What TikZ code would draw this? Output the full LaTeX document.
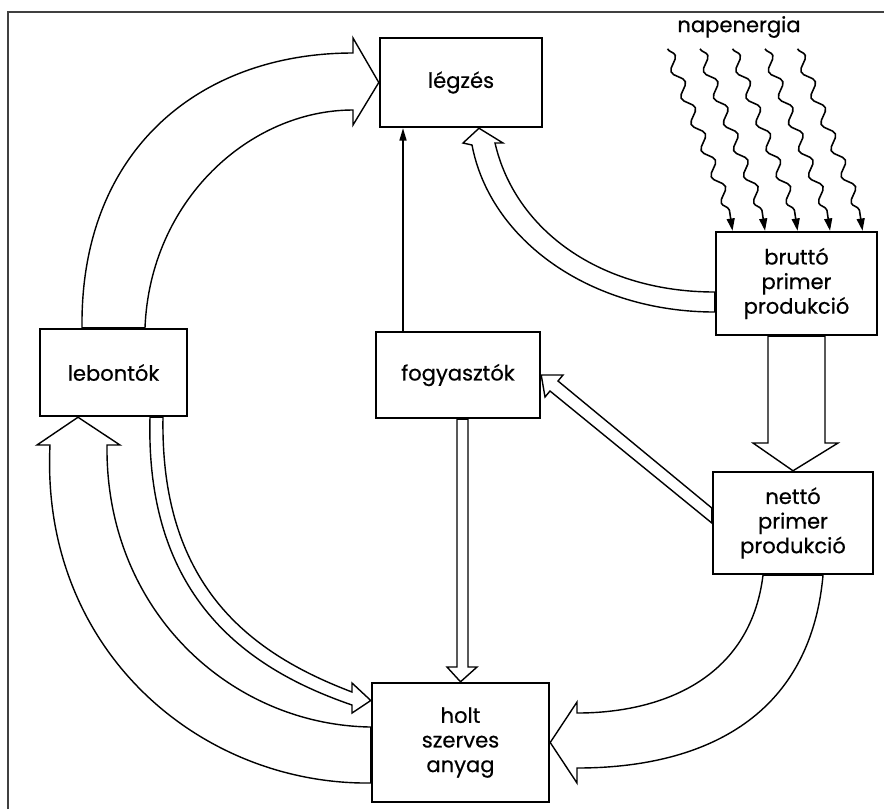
\documentclass[tikz,border=0pt]{standalone}
\usepackage{fontspec}
\setmainfont{Poppins}[FakeBold=0.5]
\usetikzlibrary{calc,arrows.meta,decorations.pathmorphing}
\tikzset{
  box/.style={draw, line width=1.4pt, align=center, inner sep=0pt,
    font=\fontsize{12}{14}\selectfont},
  hollow/.style={draw, line width=0.8pt, fill=white, line join=miter},
  thinarrow/.style={line width=0.8pt, -{Triangle[length=7pt,width=4pt]}},
  ray/.style={line width=0.9pt, -{Triangle[length=7pt,width=4.5pt]}},
}

\begin{document}
\begin{tikzpicture}[x=0.02cm, y=-0.02cm]
\useasboundingbox (0,0) rectangle (884,809);
% frame of the scan
\draw[line width=1pt, black!75] (8,809) -- (8,12) -- (884,12);

% boxes
\node[box, minimum width=3.24cm, minimum height=1.78cm] (legzes) at (461,82.5) {légzés};
\node[box, minimum width=3.22cm, minimum height=2.06cm] (brutto) at (796.5,283.5) {bruttó\\primer\\produkció};
\node[box, minimum width=3.28cm, minimum height=1.72cm] (fogy) at (458,375) {fogyasztók};
\node[box, minimum width=2.94cm, minimum height=1.74cm] (lebont) at (113.5,372.5) {lebontók};
\node[box, minimum width=3.20cm, minimum height=2.04cm] (netto) at (793,523) {nettó\\primer\\produkció};
\node[box, minimum width=3.54cm, minimum height=2.38cm] (holt) at (460.5,742.5) {holt\\szerves\\anyag};
\node[font=\fontsize{12}{14}\selectfont] (nap) at (739,27) {napenergia};

% sunlight
\foreach \i in {1,...,5}{
  \coordinate (t\i) at ($(brutto.north)+(32.5*\i-96.5,0)$);
  \draw[ray] ($(t\i)+(-65,-182)$)
    decorate[decoration={snake, amplitude=2.8pt, segment length=16pt}] {-- ($(t\i)+(-3,-20)$)}
    -- (t\i);
}

% lebontok -> legzes
\draw[hollow] ($(lebont.north)+(-31.5,0)$) .. controls (80,150) and (200,53) .. (353,53)
  -- (353,38) -- (legzes.west) -- (353,125) -- (353,110)
  .. controls (250,110) and (150,200) .. ($(lebont.north)+(31.5,0)$) -- cycle;
% fogyasztok -> legzes
\draw[thinarrow] ($(fogy.north)+(-55,0)$) -- ($(legzes.south)+(-58,0)$);
% brutto -> legzes
\draw[hollow] ($(brutto.west)+(0,28.5)$) .. controls (590,312) and (490,240) .. (472,145)
  -- (463,143) -- ($(legzes.south)+(18,0)$) -- (503,143) -- (495,143)
  .. controls (515,230) and (600,292) .. ($(brutto.west)+(0,8.5)$) -- cycle;
% brutto -> netto
\draw[hollow] ($(brutto.south)+(-28.5,0)$) -- (768,443) -- (753,443) -- (netto.north)
  -- (838,443) -- (825,443) -- ($(brutto.south)+(28.5,0)$) -- cycle;
% netto -> fogyasztok
\draw[hollow] ($(netto.west)+(0,-15)$) -- (558,381) -- (563,375) -- (fogy.east)
  -- (545,397) -- (550,391) -- (netto.west) -- cycle;
% fogyasztok -> holt
\draw[hollow] ($(fogy.south)+(-1,0)$) -- (457,667) -- (447,667) -- (holt.north)
  -- (477,667) -- (468,667) -- ($(fogy.south)+(10,0)$) -- cycle;
% lebontok -> holt
\draw[hollow] ($(lebont.south)+(36.5,0)$) .. controls (145,600) and (250,670) .. (352,705)
  -- (352,713) -- ($(holt.west)+(0,-42)$) -- (352,683) -- (352,692)
  .. controls (255,655) and (160,590) .. ($(lebont.south)+(49.5,0)$) -- cycle;
% holt -> lebontok
\draw[hollow] ($(holt.west)+(0,-15.5)$) .. controls (230,725) and (105,610) .. (107,445)
  -- (120,445) -- ($(lebont.south)+(-35.5,0)$) -- (37,445) -- (50,445)
  .. controls (40,650) and (200,785) .. ($(holt.west)+(0,40.5)$) -- cycle;
% netto -> holt
\draw[hollow] ($(netto.south)+(-30,0)$) .. controls (750,680) and (660,713) .. (577,713)
  -- (577,702) -- (holt.east) -- (577,783) -- (577,768)
  .. controls (700,768) and (810,720) .. ($(netto.south)+(30,0)$) -- cycle;
\end{tikzpicture}
\end{document}
